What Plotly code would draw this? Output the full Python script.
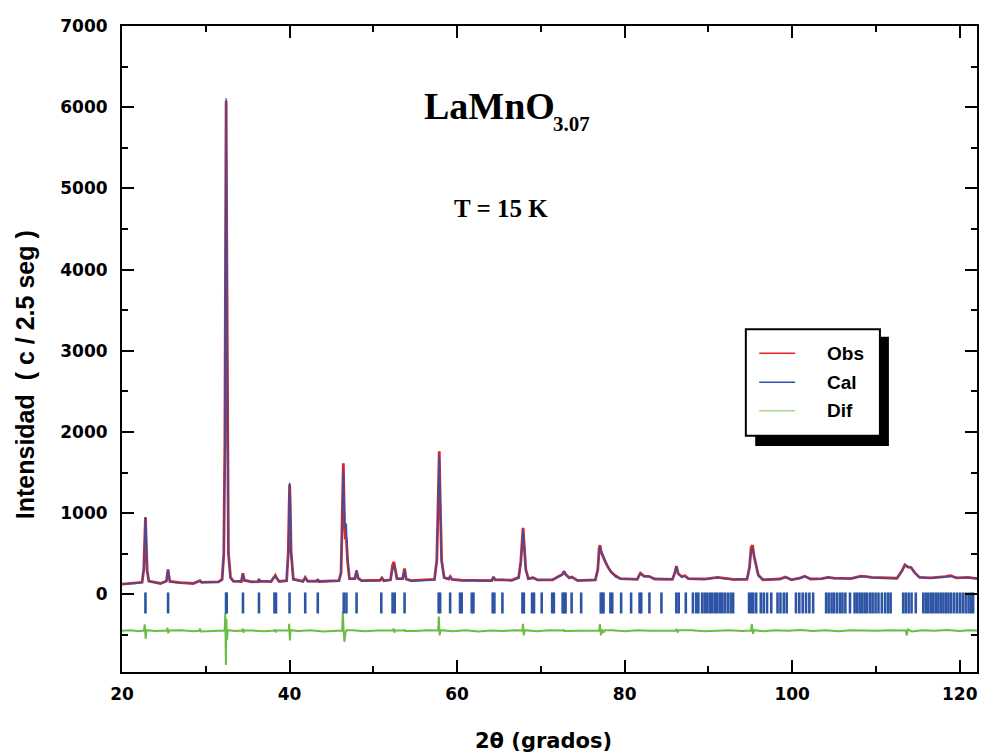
import plotly.graph_objects as go

# ---- Rietveld refinement, LaMnO3.07 neutron pattern at 15 K ----
# profile points: 2theta (deg), calculated and observed counts
two_theta = [
    20.0, 21.5, 22.4, 22.6, 22.72, 22.8, 22.88, 23.0, 23.2, 24.6,
    25.3, 25.42, 25.5, 25.58, 25.72, 27.0, 28.5, 29.3, 29.5, 31.5,
    31.95, 32.15, 32.28, 32.36, 32.43, 32.5, 32.58, 32.7, 32.95, 33.3,
    34.25, 34.43, 34.6, 35.5, 36.25, 36.35, 36.45, 37.8, 38.1, 38.3,
    38.5, 38.75, 39.65, 39.85, 39.95, 40.01, 40.08, 40.18, 40.45, 41.6,
    41.87, 42.15, 43.25, 43.37, 43.5, 45.9, 46.15, 46.3, 46.42, 46.55,
    46.66, 46.78, 46.92, 47.15, 47.8, 48.0, 48.2, 48.6, 50.8, 51.02,
    51.25, 52.05, 52.3, 52.45, 52.62, 52.82, 53.5, 53.73, 53.92, 54.5,
    57.3, 57.58, 57.76, 57.87, 57.98, 58.15, 58.45, 59.0, 59.18, 59.4,
    60.5, 61.85, 62.5, 64.15, 64.33, 64.55, 65.4, 66.5, 67.35, 67.6,
    67.78, 67.88, 68.0, 68.2, 68.5, 69.06, 69.6, 71.4, 72.55, 72.75,
    72.95, 73.4, 73.7, 74.4, 76.5, 76.8, 76.95, 77.05, 77.2, 77.45,
    77.75, 78.05, 78.35, 78.9, 79.5, 81.5, 81.88, 82.3, 82.96, 83.6,
    85.7, 86.0, 86.18, 86.4, 86.8, 87.2, 87.6, 89.5, 90.5, 91.1,
    91.8, 93.0, 94.6, 94.9, 95.1, 95.26, 95.45, 95.7, 95.95, 96.5,
    98.5, 99.2, 99.9, 101.0, 101.5, 102.2, 103.5, 104.3, 105.0, 107.0,
    108.2, 108.8, 109.5, 112.5, 113.1, 113.45, 113.8, 114.2, 114.65, 115.2,
    116.5, 118.3, 118.9, 119.6, 121.0, 122.06,
]
i_cal = [
    130, 135, 150, 300, 700, 955, 700, 300, 160, 140,
    160, 260, 305, 250, 155, 140, 142, 165, 150, 150,
    180, 480, 1900, 4300, 6110, 4300, 1900, 480, 200, 160,
    165, 255, 170, 150, 160, 185, 160, 160, 210, 225,
    200, 160, 165, 500, 1100, 1374, 1100, 500, 180, 160,
    205, 160, 160, 180, 160, 165, 260, 900, 1530, 1000,
    800, 874, 450, 190, 190, 299, 190, 165, 170, 200,
    170, 175, 330, 370, 300, 190, 190, 300, 185, 165,
    180, 400, 1200, 1715, 1200, 400, 200, 185, 217, 185,
    170, 175, 165, 175, 217, 175, 185, 170, 200, 380,
    650, 792, 600, 300, 190, 210, 175, 185, 240, 290,
    240, 200, 210, 175, 175, 300, 520, 590, 540, 470,
    400, 330, 290, 220, 190, 190, 258, 220, 225, 185,
    190, 260, 345, 260, 215, 225, 190, 185, 200, 212,
    195, 180, 190, 320, 540, 570, 480, 330, 230, 185,
    185, 212, 185, 200, 220, 195, 190, 215, 195, 200,
    220, 225, 205, 195, 280, 360, 340, 335, 260, 215,
    200, 215, 225, 210, 205, 200,
]
i_obs = [
    128, 140, 150, 310, 720, 950, 690, 290, 165, 135,
    165, 270, 308, 240, 160, 145, 135, 170, 148, 155,
    185, 500, 1850, 4200, 6080, 4400, 2000, 520, 210, 165,
    160, 262, 175, 155, 158, 190, 165, 158, 205, 235,
    195, 160, 170, 520, 1080, 1355, 1120, 530, 190, 160,
    210, 165, 165, 185, 160, 170, 270, 930, 1616, 900,
    680, 693, 420, 195, 195, 290, 200, 170, 175, 205,
    170, 180, 360, 401, 310, 195, 195, 320, 190, 170,
    185, 420, 1250, 1764, 1180, 420, 210, 190, 220, 185,
    175, 172, 170, 170, 215, 180, 180, 175, 210, 400,
    680, 820, 620, 310, 195, 205, 180, 180, 245, 285,
    250, 205, 215, 170, 180, 310, 560, 607, 520, 450,
    390, 330, 280, 230, 195, 185, 262, 225, 220, 190,
    185, 270, 348, 255, 220, 230, 195, 190, 205, 210,
    200, 185, 185, 330, 580, 607, 470, 340, 240, 180,
    190, 215, 180, 205, 225, 190, 195, 210, 200, 195,
    225, 220, 210, 200, 290, 365, 340, 330, 265, 210,
    205, 220, 230, 205, 210, 195,
]

# difference curve (Obs - Cal), shifted below the pattern
two_theta_dif = [
    20.0, 21.0, 22.0, 22.62, 22.72, 22.82, 22.92, 24.0, 25.35, 25.43,
    25.52, 25.62, 27.0, 28.5, 29.2, 29.3, 29.42, 31.0, 32.25, 32.33,
    32.4, 32.46, 32.53, 32.62, 33.5, 34.35, 34.42, 34.5, 34.6, 35.5,
    37.0, 38.22, 38.28, 38.36, 38.45, 39.5, 39.9, 39.96, 40.04, 40.12,
    41.0, 42.5, 44.0, 46.28, 46.36, 46.45, 46.55, 46.68, 46.8, 47.5,
    49.0, 50.5, 52.35, 52.42, 52.52, 52.62, 53.65, 53.72, 53.8, 55.0,
    56.5, 57.74, 57.82, 57.92, 58.02, 59.5, 61.0, 62.5, 64.0, 65.5,
    67.0, 67.78, 67.86, 67.96, 68.06, 69.5, 71.0, 72.62, 72.7, 72.8,
    74.0, 75.5, 76.95, 77.05, 77.18, 77.3, 77.5, 77.65, 78.5, 80.0,
    81.5, 83.0, 84.5, 86.1, 86.2, 86.32, 86.42, 88.0, 89.5, 91.0,
    92.5, 94.0, 95.08, 95.18, 95.32, 95.45, 96.5, 98.0, 99.5, 101.0,
    102.5, 104.0, 105.5, 107.0, 108.5, 110.0, 111.5, 113.0, 113.55, 113.68,
    113.8, 114.3, 115.5, 117.0, 118.5, 120.0, 121.0, 122.06,
]
i_dif = [
    -448, -440, -452, -445, -370, -546, -440, -450, -445, -410,
    -478, -445, -440, -452, -448, -420, -455, -448, -445, -230,
    -870, -300, -560, -440, -450, -445, -420, -470, -445, -445,
    -452, -445, -430, -465, -445, -445, -445, -362, -567, -440,
    -450, -440, -455, -445, -215, -430, -583, -470, -440, -440,
    -452, -445, -445, -420, -470, -445, -445, -430, -450, -450,
    -440, -445, -272, -505, -440, -452, -440, -455, -445, -450,
    -440, -445, -362, -505, -440, -452, -440, -445, -430, -450,
    -450, -445, -445, -362, -505, -430, -470, -440, -440, -452,
    -440, -448, -450, -445, -425, -470, -440, -440, -452, -445,
    -440, -450, -445, -362, -485, -440, -452, -440, -448, -438,
    -450, -440, -452, -440, -445, -448, -440, -450, -445, -505,
    -430, -455, -440, -448, -438, -450, -440, -445,
]

# allowed Bragg reflection positions (2theta, deg)
bragg = [
    22.8, 25.5, 32.42, 32.5, 34.44, 36.35, 38.2, 38.38, 40.0, 41.87,
    43.37, 46.47, 46.79, 48.0, 50.95, 52.3, 52.55, 53.73, 57.8, 57.98,
    59.17, 60.35, 60.55, 61.75, 61.95, 64.25, 64.45, 65.41, 67.8, 67.97,
    68.95, 69.18, 70.1, 71.35, 71.55, 72.6, 72.78, 72.95, 73.67, 74.81,
    77.15, 77.3, 77.48, 78.3, 78.52, 79.58, 80.77, 81.78, 81.98, 82.96,
    84.39, 86.17, 86.45, 87.3, 88.15, 88.55, 88.8, 89.25, 89.55, 89.85,
    90.15, 90.45, 90.75, 91.05, 91.35, 91.65, 91.95, 92.3, 92.65, 92.95,
    94.85, 95.1, 95.35, 95.7, 96.25, 96.6, 97.0, 97.5, 98.25, 98.6,
    99.0, 99.35, 100.45, 100.85, 101.25, 101.65, 102.05, 102.5, 104.05, 104.35,
    104.7, 105.0, 105.35, 105.7, 106.0, 106.35, 106.9, 107.45, 107.75, 108.05,
    108.35, 108.65, 108.95, 109.3, 109.6, 109.95, 110.3, 110.7, 111.1, 111.45,
    111.75, 113.25, 113.55, 113.9, 114.25, 114.75, 115.65, 115.95, 116.25, 116.55,
    116.85, 117.15, 117.45, 117.75, 118.05, 118.35, 118.65, 118.95, 119.3, 119.65,
    120.0, 120.35, 120.7, 121.05, 121.35, 121.6,
]
bragg_level = -105

x_ticks = [20, 40, 60, 80, 100, 120]
y_ticks = [0, 1000, 2000, 3000, 4000, 5000, 6000, 7000]

RED = "#e5222a"
BLUE = "#2d55a5"
GREEN = "#6cbd45"
GREEN_KEY = "#a8d78e"

W, H = 981, 755
L, R, T, B = 122, 2, 26, 83


def fx(px):
    return (px - L) / (W - R - L)


def fy(py):
    return (H - B - py) / (H - B - T)


fig = go.Figure()
fig.add_trace(go.Scatter(x=two_theta, y=i_obs, mode="lines",
                         line=dict(color=RED, width=2.8), name="Obs",
                         showlegend=False))
fig.add_trace(go.Scatter(x=two_theta, y=i_cal, mode="lines",
                         line=dict(color=BLUE, width=1.4), name="Cal",
                         showlegend=False))
fig.add_trace(go.Scatter(x=two_theta_dif, y=i_dif, mode="lines",
                         line=dict(color=GREEN, width=2), name="Dif",
                         showlegend=False))
fig.add_trace(go.Scatter(x=bragg, y=[bragg_level] * len(bragg), mode="markers",
                         marker=dict(symbol="line-ns", size=15,
                                     line=dict(color=BLUE, width=2.6)),
                         showlegend=False))

tick_font = dict(family="DejaVu Sans", size=17, color="black", weight="bold")

fig.update_xaxes(range=[20, 122.06], tickvals=x_ticks, ticks="inside",
                 ticklen=12, tickwidth=2, tickcolor="black",
                 minor=dict(dtick=10, tick0=0, ticks="inside", ticklen=6,
                            tickwidth=2, tickcolor="black"),
                 showline=True, linewidth=2, linecolor="black", mirror="ticks",
                 showgrid=False, zeroline=False, tickfont=tick_font,
                 ticklabelstandoff=6)
fig.update_yaxes(range=[-955, 7000], tickvals=y_ticks, ticks="inside",
                 ticklen=12, tickwidth=2, tickcolor="black",
                 minor=dict(dtick=500, tick0=0, ticks="inside", ticklen=6,
                            tickwidth=2, tickcolor="black"),
                 showline=True, linewidth=2, linecolor="black", mirror="ticks",
                 showgrid=False, zeroline=False, tickfont=tick_font,
                 ticklabelstandoff=9)

shapes = [
    # legend drop shadow and frame
    dict(type="rect", xref="paper", yref="paper",
         x0=fx(756.7), x1=fx(890.7), y0=fy(446), y1=fy(336.7),
         fillcolor="black", line=dict(width=0), layer="above"),
    dict(type="rect", xref="paper", yref="paper",
         x0=fx(747.3), x1=fx(881.7), y0=fy(435.7), y1=fy(329.3),
         fillcolor="white", line=dict(color="black", width=2), layer="above"),
]
for ly, col in [(353.3, RED), (382.3, BLUE), (410.7, GREEN_KEY)]:
    shapes.append(dict(type="line", xref="paper", yref="paper",
                       x0=fx(760.7), x1=fx(796.7), y0=fy(ly), y1=fy(ly),
                       line=dict(color=col, width=1.6), layer="above"))

annotations = []
for ly, txt in [(353.3, "Obs"), (382.3, "Cal"), (410.7, "Dif")]:
    annotations.append(dict(x=fx(827), y=fy(ly), xref="paper", yref="paper",
                            text=txt, showarrow=False, xanchor="left",
                            yanchor="middle",
                            font=dict(family="Liberation Sans", size=19,
                                      color="black", weight="bold")))

serif = dict(family="Liberation Serif", color="black", weight="bold")
annotations += [
    dict(x=fx(423), y=fy(106), xref="paper", yref="paper", text="LaMnO",
         showarrow=False, xanchor="left", yanchor="middle",
         font=dict(size=38, **serif)),
    dict(x=fx(552), y=fy(124), xref="paper", yref="paper", text="3.07",
         showarrow=False, xanchor="left", yanchor="middle",
         font=dict(size=21, **serif)),
    dict(x=fx(502), y=fy(208), xref="paper", yref="paper", text="T = 15 K",
         showarrow=False, xanchor="center", yanchor="middle",
         font=dict(size=25, **serif)),
    dict(x=fx(544), y=fy(741), xref="paper", yref="paper",
         text="2\u03b8 (grados)", showarrow=False, xanchor="center",
         yanchor="middle",
         font=dict(family="DejaVu Sans", size=21, color="black",
                   weight="bold")),
    dict(x=fx(24.5), y=fy(374.5), xref="paper", yref="paper",
         text="Intensidad  ( c / 2.5 seg )", showarrow=False, textangle=-90,
         xanchor="center", yanchor="middle",
         font=dict(family="Liberation Sans", size=25, color="black",
                   weight="bold")),
]

fig.update_layout(width=W, height=H, margin=dict(l=L, r=R, t=T, b=B),
                  paper_bgcolor="white", plot_bgcolor="white",
                  showlegend=False, shapes=shapes, annotations=annotations)

fig.write_html("out.html")
